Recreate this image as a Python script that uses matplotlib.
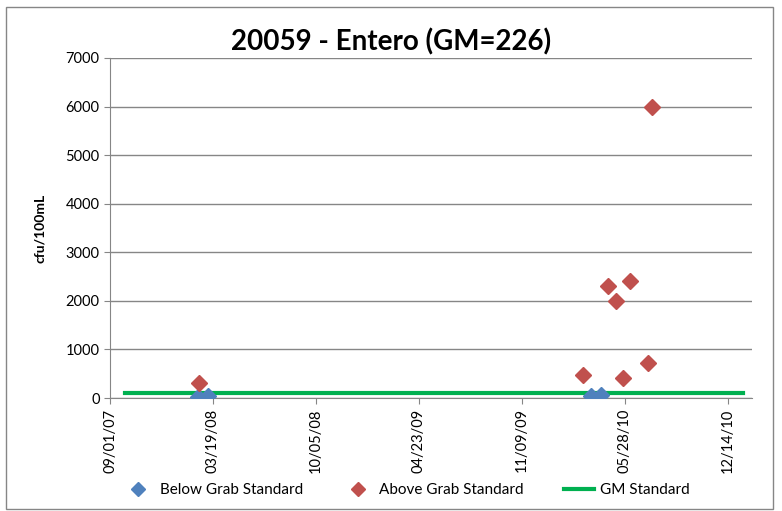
import matplotlib
matplotlib.use("Agg")
import matplotlib.pyplot as plt
import matplotlib.dates as mdates
import numpy as np
from matplotlib.patches import Rectangle

plt.rcParams["font.family"] = ["Lato", "DejaVu Sans"]

# Data
below_dates = ["2008-02-19", "2008-03-09", "2010-03-23", "2010-04-11"]
below_values = [20, 40, 40, 60]

above_dates = ["2008-02-21", "2010-03-08", "2010-04-25", "2010-05-11",
               "2010-05-24", "2010-06-07", "2010-07-12", "2010-07-20"]
above_values = [300, 480, 2300, 2000, 410, 2400, 720, 6000]

gm_dates = ["2007-09-30", "2011-01-12"]
gm_values = [110, 110]

tick_start = "2007-09-01"
tick_step_days = 200
n_ticks = 7


def to_dates(values):
    return np.array(values, dtype="datetime64[D]").astype("O")


def main():
    fig = plt.figure(figsize=(7.82, 5.11), dpi=100)
    ax = fig.add_axes([0.1407, 0.2211, 0.8209, 0.6654])

    ax.plot(to_dates(gm_dates), gm_values, color="#00B050", lw=3,
            label="GM Standard", zorder=2)
    ax.plot(to_dates(below_dates), below_values, "D", color="#4F81BD",
            ms=8, mec="#4F81BD", label="Below Grab Standard", zorder=3)
    ax.plot(to_dates(above_dates), above_values, "D", color="#C0504D",
            ms=8, mec="#C0504D", label="Above Grab Standard", zorder=3)

    start = np.datetime64(tick_start)
    ticks = [start + np.timedelta64(i * tick_step_days, "D") for i in range(n_ticks)]
    ax.set_xticks(to_dates(ticks))
    ax.xaxis.set_major_formatter(mdates.DateFormatter("%m/%d/%y"))
    ax.set_xlim(to_dates(["2007-09-01"])[0], to_dates(["2011-01-30"])[0])
    plt.setp(ax.get_xticklabels(), rotation=90)

    ax.set_ylim(0, 7000)
    ax.set_yticks(np.arange(0, 7001, 1000))
    ax.yaxis.grid(True, color="#868686", lw=1)
    ax.set_axisbelow(True)

    for side in ["top", "right"]:
        ax.spines[side].set_visible(False)
    for side in ["left", "bottom"]:
        ax.spines[side].set_color("#868686")
    ax.tick_params(axis="both", colors="#868686", labelcolor="black",
                   labelsize=10.5, length=4)

    ax.set_ylabel("cfu/100mL", fontsize=10, fontweight="bold", labelpad=14)
    fig.text(0.5, 0.902, "20059 - Entero (GM=226)", ha="center",
             fontsize=20, fontweight="bold")

    handles, labels = ax.get_legend_handles_labels()
    order = [1, 2, 0]
    fig.legend([handles[i] for i in order], [labels[i] for i in order],
               loc="lower center", bbox_to_anchor=(0.52, 0.0), ncol=3,
               frameon=False, fontsize=11, columnspacing=2.6,
               handlelength=2.0, handletextpad=0.4, markerscale=0.85)

    fig.patches.append(Rectangle((0.008, 0.004), 0.98, 0.982,
                                 transform=fig.transFigure, fill=False,
                                 edgecolor="#868686", lw=1))

    fig.savefig("out.png", dpi=100)


if __name__ == "__main__":
    main()
